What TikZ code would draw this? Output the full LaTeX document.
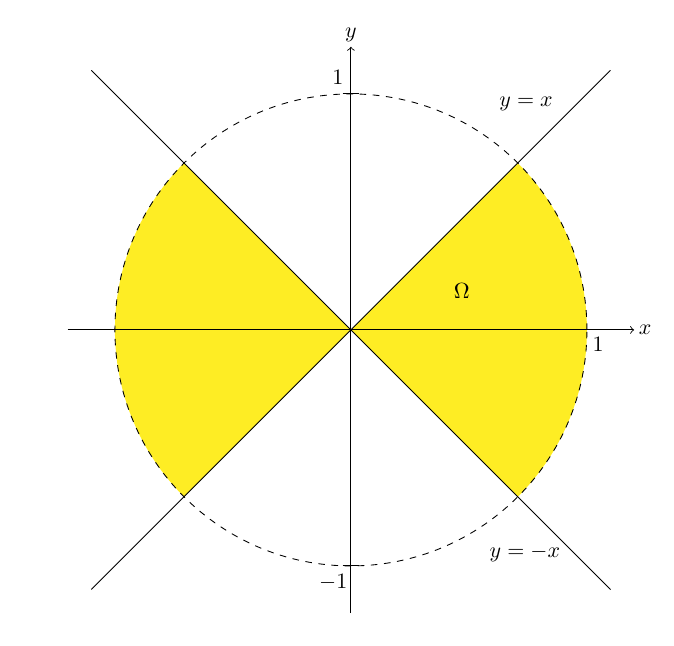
\documentclass[tikz,border=0pt]{standalone}
\begin{document}
\begin{tikzpicture}[x=3.78cm,y=3.78cm,
  axis/.style={->,thin},
  diag/.style={thin},
  lbl/.style={inner sep=2pt}]
\definecolor{regionyellow}{RGB}{254,237,36}
\useasboundingbox (-1.487,-1.339) rectangle (1.369,1.398);
\coordinate (O) at (0,0);
% filled sectors
\fill[regionyellow] (O) -- (-45:1) arc[start angle=-45,end angle=45,radius=1] -- cycle;
\fill[regionyellow] (O) -- (135:1) arc[start angle=135,end angle=225,radius=1] -- cycle;
% dashed unit circle
\draw[dashed] (O) circle[radius=1];
% diagonal lines
\coordinate (d1a) at (-1.1,-1.1);
\coordinate (d1b) at (1.1,1.1);
\coordinate (d2a) at (-1.1,1.1);
\coordinate (d2b) at (1.1,-1.1);
\draw[diag] (d1a) -- (d1b);
\draw[diag] (d2a) -- (d2b);
% axes
\coordinate (xl) at (-1.2,0);
\coordinate (xr) at (1.2,0);
\coordinate (yb) at (0,-1.2);
\coordinate (yt) at (0,1.2);
\draw[axis] (xl) -- (xr) node[right,lbl] (xlab) {$x$};
\draw[axis] (yb) -- (yt) node[above,lbl] (ylab) {$y$};
% ticks
\draw (-0.035,1) -- (0.035,1);
\draw (-0.035,-1) -- (0.035,-1);
\node[lbl] (t1) at (-0.055,1.068) {$1$};
\node[lbl] (tm1) at (-0.075,-1.068) {$-1$};
\node[lbl] (tx1) at (1.047,-0.06) {$1$};
% labels
\node[lbl] (l1) at (0.742,0.958) {$y=x$};
\node[lbl] (l2) at (0.737,-0.945) {$y=-x$};
\node[lbl] (om) at (0.47,0.165) {$\Omega$};
\end{tikzpicture}
\end{document}
